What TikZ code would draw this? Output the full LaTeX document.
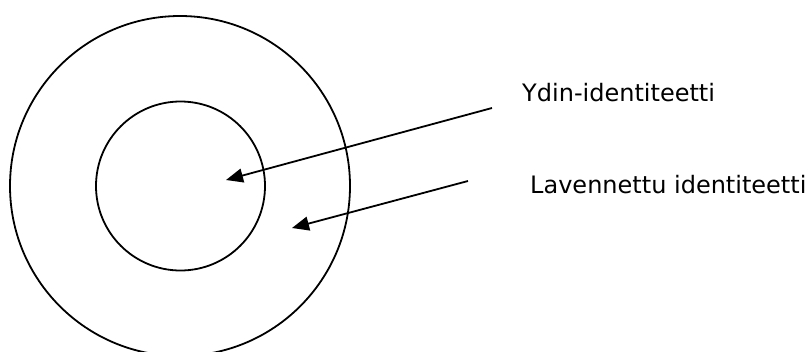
\documentclass[tikz,border=0pt]{standalone}
\usepackage{fontspec}
\setmainfont{DejaVu Sans}
\usetikzlibrary{arrows.meta}
\begin{document}
\begin{tikzpicture}[x=1pt,y=-1pt,
  ring/.style={circle,draw,line width=1.8pt,inner sep=0pt},
  pointer/.style={line width=1.8pt,-{Triangle[length=17pt,width=14pt]}},
  label/.style={anchor=base west,inner sep=0pt,font=\fontsize{24}{28}\selectfont}]
\useasboundingbox (0,0) rectangle (810,351);
\node[ring,minimum size=340pt] (outer) at (180,186) {};
\node[ring,minimum size=169pt] (inner) at (180.5,186) {};
\node[label] (core) at (522,101) {Ydin-identiteetti};
\node[label] (ext) at (530,193) {Lavennettu identiteetti};
\coordinate (s1) at (492,108);
\coordinate (t1) at (226,180);
\coordinate (s2) at (468,181);
\coordinate (t2) at (292,228);
\draw[pointer] (s1) -- (t1);
\draw[pointer] (s2) -- (t2);
\end{tikzpicture}
\end{document}
